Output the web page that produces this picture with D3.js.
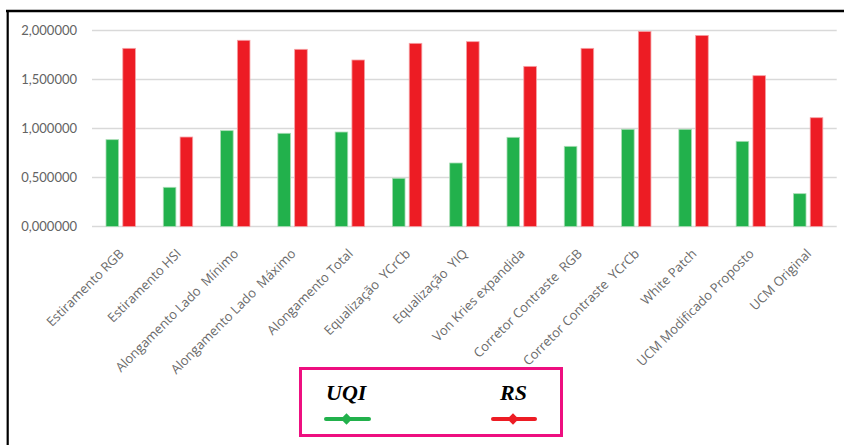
<!DOCTYPE html>
<html>
<head>
<meta charset="utf-8">
<script src="https://cdn.jsdelivr.net/npm/d3@7"></script>
<style>
  html, body { margin: 0; padding: 0; background: #fff; }
  svg { display: block; }
</style>
</head>
<body>
<script>
// Data
const categories = [
  "Estiramento RGB", "Estiramento HSI", "Alongamento Lado  Mínimo", "Alongamento Lado  Máximo",
  "Alongamento Total", "Equalização  YCrCb", "Equalização  YIQ", "Von Kries expandida",
  "Corretor Contraste  RGB", "Corretor Contraste  YCrCb", "White Patch",
  "UCM Modificado Proposto", "UCM Original"
]
const series = ["UQI", "RS"]
const uqi = [0.886, 0.400, 0.978, 0.951, 0.964, 0.492, 0.648, 0.910, 0.818, 0.992, 0.992, 0.869, 0.335]
const rs = [1.818, 0.913, 1.900, 1.808, 1.699, 1.869, 1.886, 1.634, 1.818, 1.990, 1.950, 1.539, 1.110]
const yTicks = [0, 0.5, 1, 1.5, 2]
const colors = { UQI: "#22B14C", RS: "#ED1C24" }

const W = 844, H = 445
const plot = { left: 92, right: 836.7, top: 30.5, bottom: 226.5 }

const svg = d3.select("body").append("svg")
  .attr("width", W)
  .attr("height", H)

// Frame (top and left only)
svg.append("line").attr("x1", 6).attr("x2", W).attr("y1", 11).attr("y2", 11)
  .attr("stroke", "#000").attr("stroke-width", 2.5)
svg.append("line").attr("x1", 7.7).attr("x2", 7.7).attr("y1", 10).attr("y2", H)
  .attr("stroke", "#000").attr("stroke-width", 2.2)

// Scales
const x0 = d3.scaleBand().domain(categories).range([plot.left, plot.right])
const x1 = d3.scaleBand().domain(series).range([14, 43.4]).paddingInner(0.25)
const y = d3.scaleLinear().domain([0, 2]).range([plot.bottom, plot.top])

const ptBR = d3.formatLocale({ decimal: ",", thousands: ".", grouping: [3], currency: ["", ""] })
const fmt = ptBR.format(".6f")

// Gridlines
svg.append("g").selectAll("line")
  .data(yTicks)
  .join("line")
  .attr("x1", plot.left).attr("x2", plot.right)
  .attr("y1", d => y(d)).attr("y2", d => y(d))
  .attr("stroke", "#D9D9D9").attr("stroke-width", 1.5)

// Y axis labels
const yAxis = d3.axisLeft(y).tickValues(yTicks).tickFormat(fmt).tickSize(0).tickPadding(15)
svg.append("g")
  .attr("transform", `translate(${plot.left},0)`)
  .call(yAxis)
  .call(g => g.select(".domain").remove())
  .selectAll("text")
  .attr("fill", "#636363")
  .style("font-family", "Lato, 'Open Sans', sans-serif")
  .style("font-size", "13px")

// Bars
const rows = categories.map((c, i) => ({ cat: c, UQI: uqi[i], RS: rs[i] }))
const groups = svg.append("g").selectAll("g")
  .data(rows)
  .join("g")
  .attr("transform", d => `translate(${x0(d.cat)},0)`)

groups.selectAll("rect")
  .data(d => series.map(s => ({ key: s, value: d[s] })))
  .join("rect")
  .attr("x", d => x1(d.key))
  .attr("y", d => y(d.value))
  .attr("width", x1.bandwidth())
  .attr("height", d => y(0) - y(d.value))
  .attr("fill", d => colors[d.key])
  .attr("stroke", d => d.key === "UQI" ? "#A8DDB5" : "#F6A0A4")
  .attr("stroke-width", 0.8)

// X axis labels (rotated)
svg.append("g").selectAll("text")
  .data(categories)
  .join("text")
  .attr("transform", d => `translate(${x0(d) + x0.bandwidth() / 2 + 4},${plot.bottom + 28}) rotate(-45)`)
  .attr("text-anchor", "end")
  .attr("fill", "#6a6a6a")
  .style("font-family", "'Open Sans', Lato, sans-serif")
  .style("font-size", "13px")
  .style("white-space", "pre")
  .text(d => d)

// Legend
const legend = svg.append("g")
legend.append("rect")
  .attr("x", 300.5).attr("y", 368.5)
  .attr("width", 261).attr("height", 67)
  .attr("fill", "none")
  .attr("stroke", "#EE0F80").attr("stroke-width", 3)

const legendItems = [
  { key: "UQI", tx: 326, lx1: 326, lx2: 369 },
  { key: "RS", tx: 500, lx1: 493, lx2: 535 }
]
legend.selectAll("text")
  .data(legendItems)
  .join("text")
  .attr("x", d => d.tx)
  .attr("y", 399.5)
  .style("font-family", "'Liberation Serif', 'Times New Roman', serif")
  .style("font-weight", "bold")
  .style("font-style", "italic")
  .style("font-size", "22px")
  .attr("fill", "#000")
  .text(d => d.key)

legend.selectAll("line.key")
  .data(legendItems)
  .join("line")
  .attr("class", "key")
  .attr("x1", d => d.lx1).attr("x2", d => d.lx2)
  .attr("y1", 419).attr("y2", 419)
  .attr("stroke", d => colors[d.key])
  .attr("stroke-width", 4)
  .attr("stroke-linecap", "round")

legend.selectAll("path.marker")
  .data(legendItems)
  .join("path")
  .attr("class", "marker")
  .attr("transform", d => `translate(${(d.lx1 + d.lx2) / 2 - 1},419) rotate(45)`)
  .attr("d", d3.symbol(d3.symbolSquare, 64))
  .attr("fill", d => colors[d.key])
</script>
</body>
</html>
